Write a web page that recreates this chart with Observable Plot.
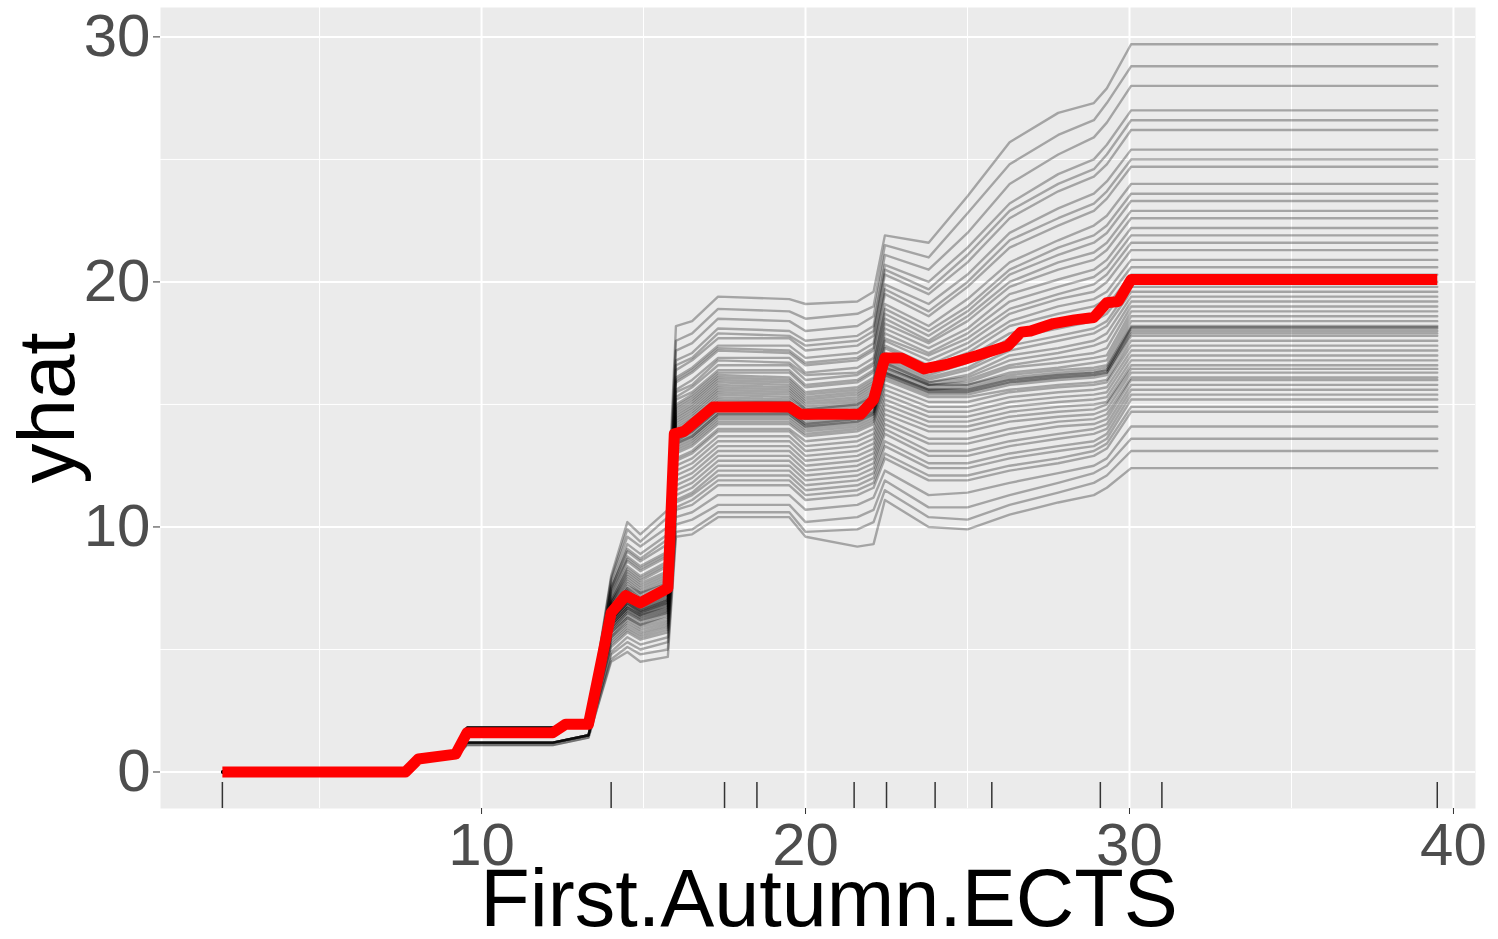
<!DOCTYPE html>
<html>
<head>
<meta charset="utf-8">
<script src="https://cdn.jsdelivr.net/npm/d3@7"></script>
<script src="https://cdn.jsdelivr.net/npm/@observablehq/plot@0.6"></script>
<style>
  html, body { margin: 0; padding: 0; background: #ffffff; }
  #chart { width: 1498px; height: 939px; }
</style>
</head>
<body>
<div id="chart"></div>
<script>
// ---- data ----
const xTicks = [10, 20, 30, 40];
const xMinor = [5, 15, 25, 35];
const yTicks = [0, 10, 20, 30];
const yMinor = [5, 15, 25];
const rugX = [2, 14, 17.5, 18.5, 21.5, 22.5, 24, 25.75, 29.1, 31, 39.5];

// partial dependence (red) line
const pdpX = [2, 7.65, 8.05, 9.2, 9.55, 12.2, 12.6, 13.3, 14.0, 14.45, 14.9, 15.75, 15.95, 16.25, 17.15, 19.5, 19.85, 21.7, 22.1, 22.45, 22.95, 23.65, 24.4, 25.3, 26.25, 26.65, 26.95, 27.65, 28.3, 28.9, 29.3, 29.65, 30.05, 39.5];
const pdpY = [0, 0, 0.53, 0.73, 1.6, 1.6, 1.95, 1.95, 6.5, 7.2, 6.9, 7.5, 13.8, 13.9, 14.9, 14.9, 14.6, 14.6, 15.2, 16.9, 16.9, 16.45, 16.65, 17.0, 17.4, 17.95, 18.0, 18.3, 18.45, 18.55, 19.15, 19.2, 20.1, 20.1];

// individual conditional expectation curves (values at iceX)
const iceX = [2, 7.65, 8.05, 9.2, 9.55, 12.2, 13.3, 14.0, 14.5, 14.9, 15.75, 16.0, 16.5, 17.3, 19.5, 20.0, 21.6, 22.1, 22.45, 23.8, 25.0, 26.3, 27.8, 28.9, 29.3, 30.05, 39.5];
const ice01 = [0,0,0.6,0.8,1.8,1.8,2.1, 8.0,10.2,9.7,10.7, 18.2,18.4,19.4,19.3,19.1,19.2,19.6, 21.9,21.6,23.5,25.7,26.9,27.3,27.9, 29.7,29.7];
const ice02 = [0,0,0.5,0.7,1.8,1.8,2.1, 7.9,9.9,9.4,10.4, 17.6,17.9,18.9,18.8,18.5,18.7,19.0, 21.5,21.0,22.8,24.8,26.0,26.6,27.3, 28.8,28.8];
const ice03 = [0,0,0.5,0.7,1.7,1.7,2.0, 7.8,9.6,9.2,10.0, 17.2,17.5,18.5,18.4,18.0,18.2,18.6, 21.1,20.5,22.0,24.0,25.2,25.9,26.5, 28.0,28.0];
const ice04 = [0,0,0.5,0.7,1.8,1.8,2.1, 7.6,9.3,8.9,9.7, 16.8,17.1,18.1,18.0,17.6,17.8,18.2, 20.7,20.0,21.4,23.2,24.4,25.0,25.6, 27.0,27.0];
const ice05 = [0,0,0.5,0.7,1.7,1.7,2.0, 7.5,9.0,8.6,9.3, 16.4,16.8,17.7,17.7,17.2,17.4,17.8, 20.3,19.5,20.8,22.6,23.7,24.3,24.8, 26.2,26.2];
const ice06 = [0,0,0.5,0.7,1.8,1.8,2.1, 7.4,8.8,8.4,9.0, 16.1,16.5,17.4,17.4,16.9,17.1,17.5, 19.9,19.1,20.3,22.0,23.0,23.6,24.1, 25.4,25.4];
const ice07 = [0,0,0.5,0.7,1.7,1.7,2.0, 7.2,8.6,8.2,8.8, 15.9,16.3,17.2,17.1,16.6,16.8,17.2, 19.5,18.6,19.8,21.4,22.3,22.9,23.4, 24.7,24.7];
const ice08 = [0,0,0.5,0.7,1.8,1.8,2.1, 7.1,8.4,8.0,8.6, 15.6,16.0,16.9,16.9,16.3,16.5,16.9, 19.1,18.2,19.3,20.8,21.7,22.3,22.7, 24.0,24.0];
const ice09 = [0,0,0.5,0.7,1.7,1.7,2.0, 7.0,8.2,7.8,8.4, 15.3,15.7,16.6,16.6,16.0,16.2,16.6, 18.7,17.8,18.8,20.3,21.1,21.6,22.0, 23.3,23.3];
const ice10 = [0,0,0.5,0.7,1.8,1.8,2.1, 6.9,8.0,7.6,8.1, 15.0,15.4,16.3,16.3,15.7,15.9,16.3, 18.3,17.5,18.4,19.8,20.5,20.9,21.3, 22.6,22.6];
const ice11 = [0,0,0.5,0.7,1.7,1.7,2.0, 6.8,7.8,7.4,7.9, 14.8,15.2,16.1,16.0,15.4,15.6,16.0, 17.9,17.1,17.9,19.2,19.8,20.2,20.6, 21.9,21.9];
const ice12 = [0,0,0.5,0.7,1.8,1.8,2.1, 6.7,7.6,7.3,7.7, 14.6,15.0,15.9,15.8,15.2,15.4,15.8, 17.6,16.8,17.5,18.7,19.3,19.6,20.0, 21.3,21.3];
const ice13 = [0,0,0.5,0.7,1.7,1.7,2.0, 6.6,7.5,7.1,7.6, 14.4,14.8,15.7,15.6,15.0,15.2,15.6, 17.3,16.5,17.1,18.2,18.7,19.0,19.3, 20.6,20.6];
const ice14 = [0,0,0.5,0.7,1.8,1.8,2.1, 6.5,7.4,7.0,7.5, 14.2,14.6,15.5,15.4,14.8,15.0,15.4, 17.0,16.2,16.7,17.7,18.1,18.4,18.7, 20.0,20.0];
const ice15 = [0,0,0.5,0.7,1.7,1.7,2.0, 6.4,7.3,6.9,7.4, 14.0,14.4,15.3,15.2,14.7,14.9,15.2, 16.8,16.0,16.4,17.2,17.6,17.9,18.2, 19.6,19.6];
const ice16 = [0,0,0.5,0.7,1.8,1.8,2.1, 6.4,7.2,6.8,7.3, 13.9,14.2,15.1,15.1,14.6,14.8,15.1, 16.7,15.9,16.1,16.8,17.1,17.4,17.6, 19.2,19.2];
const ice17 = [0,0,0.5,0.7,1.7,1.7,2.0, 6.3,7.1,6.8,7.2, 13.8,14.1,15.0,15.0,14.5,14.7,15.0, 16.5,15.8,15.9,16.5,16.7,16.9,17.0, 18.8,18.8];
const ice18 = [0,0,0.5,0.7,1.8,1.8,2.1, 6.2,7.0,6.7,7.1, 13.7,14.0,14.9,14.9,14.4,14.6,14.9, 16.4,15.7,15.8,16.2,16.4,16.5,16.6, 18.4,18.4];
const ice19 = [0,0,0.5,0.7,1.7,1.7,2.0, 6.2,6.9,6.6,7.0, 13.5,13.8,14.7,14.7,14.2,14.4,14.7, 16.3,15.6,15.6,16.0,16.2,16.3,16.4, 18.1,18.1];
const ice20 = [0,0,0.5,0.7,1.8,1.8,2.1, 6.1,6.8,6.5,6.9, 13.3,13.6,14.5,14.5,14.0,14.2,14.5, 16.1,15.4,15.4,15.8,16.0,16.1,16.2, 17.8,17.8];
const ice21 = [0,0,0.5,0.7,1.7,1.7,2.0, 6.0,6.7,6.4,6.8, 13.1,13.4,14.3,14.3,13.8,14.0,14.3, 15.8,15.1,15.1,15.5,15.7,15.8,15.9, 17.4,17.4];
const ice22 = [0,0,0.5,0.7,1.8,1.8,2.1, 5.9,6.6,6.3,6.7, 12.8,13.1,14.0,14.0,13.5,13.7,14.0, 15.4,14.7,14.7,15.1,15.3,15.4,15.5, 17.0,17.0];
const ice23 = [0,0,0.4,0.6,1.2,1.2,1.5, 5.8,6.5,6.2,6.6, 12.5,12.8,13.7,13.7,13.1,13.3,13.6, 15.0,14.3,14.3,14.7,14.9,15.0,15.1, 16.6,16.6];
const ice24 = [0,0,0.5,0.7,1.7,1.7,2.0, 5.7,6.4,6.1,6.5, 12.1,12.4,13.3,13.3,12.7,12.9,13.2, 14.6,13.9,13.9,14.3,14.5,14.6,14.8, 16.3,16.3];
const ice25 = [0,0,0.4,0.6,1.2,1.2,1.5, 5.6,6.3,6.0,6.3, 11.7,12.0,12.9,12.9,12.3,12.5,12.8, 14.2,13.4,13.4,13.8,14.1,14.2,14.4, 16.0,16.0];
const ice26 = [0,0,0.5,0.7,1.7,1.7,2.0, 5.5,6.1,5.8,6.1, 11.3,11.6,12.5,12.5,11.9,12.1,12.4, 13.8,12.9,12.9,13.3,13.6,13.8,14.0, 15.6,15.6];
const ice27 = [0,0,0.4,0.6,1.2,1.2,1.5, 5.3,5.9,5.6,5.9, 11.0,11.3,12.1,12.1,11.5,11.7,12.0, 13.3,12.4,12.4,12.8,13.1,13.3,13.6, 15.2,15.2];
const ice28 = [0,0,0.5,0.7,1.7,1.7,2.0, 5.1,5.7,5.4,5.7, 10.7,10.9,11.7,11.7,11.1,11.3,11.6, 12.8,11.9,11.9,12.3,12.6,12.9,13.2, 14.7,14.7];
const ice29 = [0,0,0.4,0.6,1.2,1.2,1.5, 4.9,5.5,5.2,5.5, 10.4,10.6,11.3,11.3,10.7,10.9,11.2, 12.3,11.3,11.4,11.8,12.2,12.5,12.8, 14.1,14.1];
const ice30 = [0,0,0.4,0.6,1.2,1.2,1.5, 4.8,5.3,5.0,5.3, 10.1,10.3,10.9,10.9,10.2,10.4,10.7, 11.9,10.8,10.8,11.3,11.8,12.2,12.5, 13.6,13.6];
const ice31 = [0,0,0.4,0.6,1.1,1.1,1.4, 4.6,5.1,4.8,5.0, 9.8,9.9,10.6,10.6,9.8,9.9,10.2, 11.5,10.4,10.3,10.9,11.4,11.8,12.1, 13.1,13.1];
const ice32 = [0,0,0.4,0.6,1.1,1.1,1.4, 4.5,4.9,4.5,4.7, 9.6,9.7,10.4,10.4,9.6,9.2,9.3, 11.1,10.0,9.9,10.5,11.0,11.3,11.6, 12.4,12.4];
const ice33 = [0,0,0.5,0.7,1.7,1.7,2.0, 7.0,8.3,7.9,8.5, 15.5,15.8,16.8,16.7,16.2,16.3,16.7, 18.9,18.0,19.0,20.5,21.4,21.9,22.3, 23.6,23.6];
const ice34 = [0,0,0.5,0.7,1.8,1.8,2.1, 6.9,7.9,7.5,8.0, 14.9,15.3,16.2,16.1,15.5,15.7,16.1, 18.1,17.3,18.1,19.5,20.1,20.5,20.9, 22.2,22.2];
const ice35 = [0,0,0.5,0.7,1.7,1.7,2.0, 6.8,7.7,7.3,7.8, 14.7,15.1,16.0,15.9,15.3,15.5,15.9, 17.7,17.0,17.7,18.9,19.5,19.9,20.3, 21.6,21.6];
const ice36 = [0,0,0.5,0.7,1.8,1.8,2.1, 6.6,7.5,7.2,7.6, 14.5,14.9,15.8,15.7,15.1,15.3,15.7, 17.4,16.6,17.3,18.4,19.0,19.3,19.6, 20.9,20.9];
const ice37 = [0,0,0.5,0.7,1.7,1.7,2.0, 6.5,7.4,7.0,7.5, 14.3,14.7,15.6,15.5,14.9,15.1,15.5, 17.1,16.4,16.9,17.9,18.4,18.7,19.0, 20.3,20.3];
const ice38 = [0,0,0.5,0.7,1.8,1.8,2.1, 6.5,7.3,7.0,7.4, 14.1,14.5,15.4,15.3,14.8,15.0,15.3, 16.9,16.1,16.5,17.4,17.8,18.1,18.4, 19.8,19.8];
const ice39 = [0,0,0.5,0.7,1.7,1.7,2.0, 6.4,7.2,6.9,7.3, 13.9,14.3,15.2,15.1,14.6,14.8,15.1, 16.7,15.9,16.2,17.0,17.3,17.6,17.9, 19.4,19.4];
const ice40 = [0,0,0.5,0.7,1.8,1.8,2.1, 6.3,7.1,6.8,7.2, 13.8,14.1,15.0,15.0,14.5,14.7,15.0, 16.6,15.8,16.0,16.6,16.9,17.1,17.3, 19.0,19.0];
const ice41 = [0,0,0.5,0.7,1.7,1.7,2.0, 6.3,7.0,6.7,7.1, 13.7,14.0,14.9,14.9,14.4,14.6,14.9, 16.5,15.8,15.8,16.3,16.5,16.7,16.8, 18.6,18.6];
const ice42 = [0,0,0.5,0.7,1.8,1.8,2.1, 6.2,7.0,6.6,7.0, 13.6,13.9,14.8,14.8,14.3,14.5,14.8, 16.3,15.6,15.7,16.1,16.3,16.4,16.5, 18.2,18.2];
const ice43 = [0,0,0.5,0.7,1.7,1.7,2.0, 6.2,6.9,6.6,7.0, 13.5,13.9,14.8,14.7,14.2,14.4,14.7, 16.3,15.6,15.6,16.0,16.2,16.3,16.4, 18.15,18.15];
const ice44 = [0,0,0.5,0.7,1.8,1.8,2.1, 6.1,6.9,6.5,6.9, 13.4,13.7,14.6,14.6,14.1,14.3,14.6, 16.2,15.5,15.5,15.9,16.1,16.2,16.3, 18.0,18.0];
const ice45 = [0,0,0.5,0.7,1.7,1.7,2.0, 6.1,6.8,6.5,6.9, 13.4,13.7,14.6,14.6,14.1,14.3,14.6, 16.2,15.5,15.5,15.9,16.1,16.2,16.3, 17.9,17.9];
const ice46 = [0,0,0.5,0.7,1.8,1.8,2.1, 6.0,6.7,6.4,6.8, 13.2,13.5,14.4,14.4,13.9,14.1,14.4, 16.0,15.3,15.3,15.6,15.8,15.9,16.0, 17.6,17.6];
const ice47 = [0,0,0.5,0.7,1.7,1.7,2.0, 6.0,6.7,6.4,6.7, 13.0,13.3,14.2,14.2,13.7,13.9,14.2, 15.6,14.9,14.9,15.3,15.5,15.6,15.7, 17.2,17.2];
const ice48 = [0,0,0.5,0.7,1.8,1.8,2.1, 5.9,6.6,6.3,6.6, 12.7,13.0,13.9,13.9,13.3,13.5,13.8, 15.2,14.5,14.5,14.9,15.1,15.2,15.3, 16.8,16.8];
const ice49 = [0,0,0.4,0.6,1.2,1.2,1.5, 5.8,6.5,6.2,6.5, 12.3,12.6,13.5,13.5,12.9,13.1,13.4, 14.8,14.1,14.1,14.5,14.7,14.8,15.0, 16.45,16.45];
const ice50 = [0,0,0.5,0.7,1.7,1.7,2.0, 5.7,6.3,6.0,6.4, 11.9,12.2,13.1,13.1,12.5,12.7,13.0, 14.4,13.6,13.6,14.0,14.3,14.4,14.6, 16.1,16.1];
const ice51 = [0,0,0.4,0.6,1.2,1.2,1.5, 5.5,6.2,5.9,6.2, 11.5,11.8,12.7,12.7,12.1,12.3,12.6, 14.0,13.1,13.1,13.5,13.8,14.0,14.2, 15.8,15.8];
const ice52 = [0,0,0.5,0.7,1.7,1.7,2.0, 5.4,6.0,5.7,6.0, 11.1,11.4,12.3,12.3,11.7,11.9,12.2, 13.5,12.6,12.6,13.0,13.3,13.5,13.8, 15.4,15.4];
const ice53 = [0,0,0.4,0.6,1.2,1.2,1.5, 5.2,5.8,5.5,5.8, 10.8,11.1,11.9,11.9,11.3,11.5,11.8, 13.0,12.1,12.1,12.5,12.8,13.1,13.4, 14.9,14.9];
const ice54 = [0,0,0.5,0.7,1.7,1.7,2.0, 7.3,8.7,8.3,8.9, 16.0,16.4,17.3,17.2,16.7,16.9,17.3, 19.7,18.8,20.0,21.7,22.6,23.2,23.7, 25.0,25.0];
const ice55 = [0,0,0.5,0.7,1.8,1.8,2.1, 7.5,9.1,8.7,9.5, 16.6,16.9,17.9,17.8,17.4,17.6,18.0, 20.5,19.7,21.1,22.9,24.0,24.6,25.2, 26.6,26.6];
const ice56 = [0,0,0.5,0.7,1.7,1.7,2.0, 6.9,8.1,7.7,8.2, 15.2,15.5,16.4,16.4,15.8,16.0,16.4, 18.5,17.6,18.6,20.0,20.8,21.2,21.6, 22.9,22.9];

const iceCurves = [ice01, ice02, ice03, ice04, ice05, ice06, ice07, ice08, ice09, ice10,
  ice11, ice12, ice13, ice14, ice15, ice16, ice17, ice18, ice19, ice20,
  ice21, ice22, ice23, ice24, ice25, ice26, ice27, ice28, ice29, ice30,
  ice31, ice32, ice33, ice34, ice35, ice36, ice37, ice38, ice39, ice40,
  ice41, ice42, ice43, ice44, ice45, ice46, ice47, ice48, ice49, ice50,
  ice51, ice52, ice53, ice54, ice55, ice56];

// ---- tables built for the library ----
const iceRows = iceCurves.flatMap((ys, i) => ys.map((y, j) => ({id: i, x: iceX[j], y})));
const pdpRows = pdpX.map((x, i) => ({x, y: pdpY[i]}));

const chart = Plot.plot({
  width: 1498,
  height: 939,
  marginLeft: 160,
  marginRight: 23,
  marginTop: 7,
  marginBottom: 131,
  style: {fontFamily: "'Liberation Sans', Arial, sans-serif", background: "#ffffff", overflow: "visible"},
  x: {domain: [0.09, 40.68], label: null},
  y: {domain: [-1.49, 31.2], label: null},
  marks: [
    Plot.frame({fill: "#EBEBEB", stroke: "none"}),
    Plot.ruleX(xMinor, {stroke: "#ffffff", strokeWidth: 1}),
    Plot.ruleY(yMinor, {stroke: "#ffffff", strokeWidth: 1}),
    Plot.ruleX(xTicks, {stroke: "#ffffff", strokeWidth: 2}),
    Plot.ruleY(yTicks, {stroke: "#ffffff", strokeWidth: 2}),
    Plot.line(iceRows, {x: "x", y: "y", z: "id", stroke: "#000000", strokeOpacity: 0.3, strokeWidth: 2.4}),
    Plot.line(pdpRows, {x: "x", y: "y", stroke: "#FF0000", strokeWidth: 11, strokeLinejoin: "round", strokeLinecap: "butt"}),
    Plot.ruleX(rugX, {stroke: "#333333", strokeWidth: 1.5, insetTop: 775}),
    Plot.axisX(xTicks, {tickSize: 6, tickPadding: 8, fontSize: 60, stroke: "#333333", fill: "#4D4D4D", label: null}),
    Plot.axisY(yTicks, {tickSize: 7, tickPadding: 3, fontSize: 60, stroke: "#333333", fill: "#4D4D4D", label: null}),
    Plot.text(["First.Autumn.ECTS"], {frameAnchor: "bottom", dx: 11, dy: 117, lineAnchor: "bottom", textAnchor: "middle", fontSize: 81, fill: "#000000"}),
    Plot.text(["yhat"], {frameAnchor: "left", dx: -87, rotate: -90, lineAnchor: "bottom", textAnchor: "middle", fontSize: 80, fill: "#000000"})
  ]
});
document.getElementById("chart").appendChild(chart);
</script>
</body>
</html>
